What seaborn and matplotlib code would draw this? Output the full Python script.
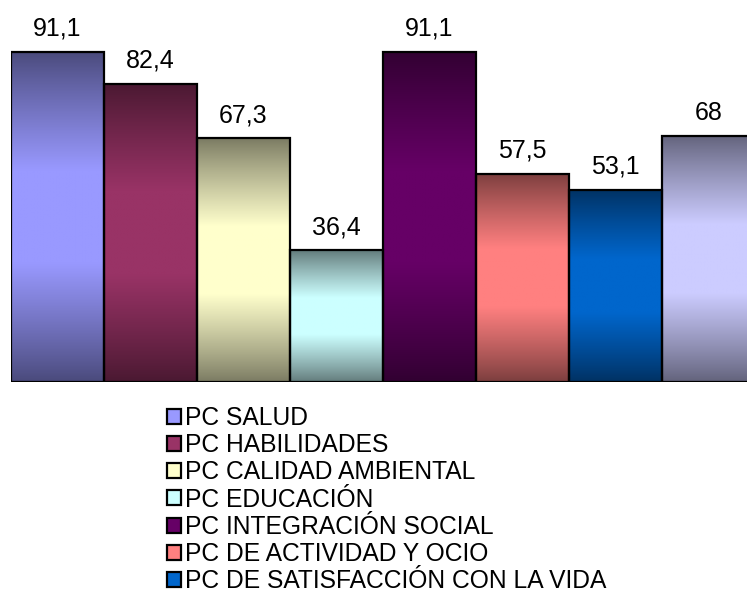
import numpy as np
import pandas as pd
import matplotlib
matplotlib.use("Agg")
import matplotlib.pyplot as plt
from matplotlib.colors import to_rgb
from matplotlib.patches import Patch
import seaborn as sns

# Percentile scores per quality-of-life area
categories = [
    "PC SALUD",
    "PC HABILIDADES",
    "PC CALIDAD AMBIENTAL",
    "PC EDUCACIÓN",
    "PC INTEGRACIÓN SOCIAL",
    "PC DE ACTIVIDAD Y OCIO",
    "PC DE SATISFACCIÓN CON LA VIDA",
    "PC TOTAL",
]
values = [91.1, 82.4, 67.3, 36.4, 91.1, 57.5, 53.1, 68.0]
value_labels = ["91,1", "82,4", "67,3", "36,4", "91,1", "57,5", "53,1", "68"]
colors = ["#9999FF", "#993366", "#FFFFCC", "#CCFFFF",
          "#660066", "#FF8080", "#0066CC", "#CCCCFF"]
legend_count = 7

sns.set_theme(style="white")
plt.rcParams["font.family"] = ["Liberation Sans", "DejaVu Sans"]
plt.rcParams["text.color"] = "black"

W, H = 747, 595
fig = plt.figure(figsize=(W / 100, H / 100), dpi=100)
fig.patch.set_facecolor("white")

# plot area: bars start at x=11 px, baseline at y=382 px
px_per_unit = 330 / 91.1
ymax = 100
ax = fig.add_axes([11 / W, (H - 382) / H, 744 / W, ymax * px_per_unit / H])

df = pd.DataFrame({"cat": categories, "val": values})
sns.barplot(data=df, x="cat", y="val", hue="cat", palette=colors,
            width=1.0, edgecolor="black", linewidth=1.6, legend=False,
            dodge=False, ax=ax)

# vertical "from centre" gradient inside each bar
n = 256
u = np.linspace(0, 1, n)
t = 1 - np.abs(2 * u - 1)
s = np.clip(t / 0.72, 0, 1) ** 0.9
for patch, col in zip(ax.patches, colors):
    light = np.array(to_rgb(col))
    dark = light * 0.48
    img = dark[None, :] + (light - dark)[None, :] * s[:, None]
    img = img[:, None, :]
    x0, y0 = patch.get_x(), patch.get_y()
    w, h = patch.get_width(), patch.get_height()
    im = ax.imshow(img, extent=(x0, x0 + w, y0, y0 + h), aspect="auto",
                   origin="lower", interpolation="bilinear",
                   zorder=patch.get_zorder() - 0.01)
    im.set_clip_path(patch)
    patch.set_facecolor("none")

for cont, lab in zip(ax.containers, value_labels):
    ax.bar_label(cont, labels=[lab], padding=8, fontsize=18, color="black")

ax.set_xlim(-0.5, 7.5)
ax.set_ylim(0, ymax)
ax.set_axis_off()

handles = [Patch(facecolor=c, edgecolor="black", linewidth=1.6) for c in colors]
fig.legend(handles[:legend_count], categories[:legend_count], loc="upper left",
           bbox_to_anchor=(167 / W, 1 - 406 / H), frameon=False,
           fontsize=17.7, handlelength=0.57, handleheight=0.57,
           handletextpad=0.18, labelspacing=0.13, borderpad=0, borderaxespad=0,
           labelcolor="black")

fig.savefig("out.png", dpi=100, facecolor="white")
